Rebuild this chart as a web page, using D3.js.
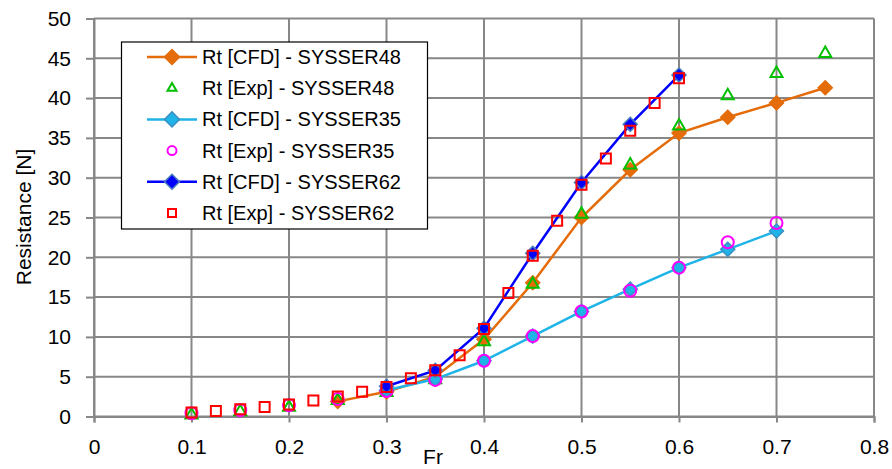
<!DOCTYPE html>
<html><head><meta charset="utf-8">
<script src="https://cdn.jsdelivr.net/npm/d3@7"></script>
<style>body{margin:0;background:#fff}svg{display:block;font-family:"Liberation Sans",Arial,sans-serif}</style>
</head><body><svg id="c" width="892" height="469"></svg>
<script>
const xTicks = [0,0.1,0.2,0.3,0.4,0.5,0.6,0.7,0.8];
const yTicks = [0,5,10,15,20,25,30,35,40,45,50];

const fr48CFD = [0.25,0.3,0.35,0.4,0.45,0.5,0.55,0.6,0.65,0.7,0.75];
const rt48CFD = [1.9,3.1,5.0,9.7,16.8,25.0,31.0,35.6,37.6,39.4,41.3];
const fr48Exp = [0.1,0.15,0.2,0.25,0.3,0.35,0.4,0.45,0.5,0.55,0.6,0.65,0.7,0.75];
const rt48Exp = [0.2,0.6,1.15,2.0,3.0,4.6,9.4,16.6,25.4,31.6,36.5,40.3,43.1,45.6];
const fr35CFD = [0.3,0.35,0.4,0.45,0.5,0.55,0.6,0.65,0.7];
const rt35CFD = [3.3,4.7,7.0,10.1,13.2,16.0,18.7,21.0,23.3];
const fr35Exp = [0.1,0.15,0.2,0.25,0.3,0.35,0.4,0.45,0.5,0.55,0.6,0.65,0.7];
const rt35Exp = [0.4,0.8,1.4,2.2,3.2,4.6,7.0,10.1,13.2,15.8,18.7,21.9,24.3];
const fr62CFD = [0.3,0.35,0.4,0.45,0.5,0.55,0.6];
const rt62CFD = [3.8,5.8,11.1,20.5,29.4,36.7,42.9];
const fr62Exp = [0.1,0.125,0.15,0.175,0.2,0.225,0.25,0.275,0.3,0.325,0.35,0.375,0.4,0.425,0.45,0.475,0.5,0.525,0.55,0.575,0.6];
const rt62Exp = [0.5,0.7,0.9,1.2,1.5,2.0,2.5,3.1,3.7,4.8,5.8,7.7,11.0,15.5,20.2,24.6,29.1,32.4,35.9,39.4,42.5];

const seriesNames = ["Rt [CFD] - SYSSER48","Rt [Exp] - SYSSER48","Rt [CFD] - SYSSER35","Rt [Exp] - SYSSER35","Rt [CFD] - SYSSER62","Rt [Exp] - SYSSER62"];

const series = [
  {name:seriesNames[0], x:fr48CFD, y:rt48CFD, line:"#e46c0a", marker:"diamond", fill:"#e46c0a", stroke:"#e46c0a", size:14},
  {name:seriesNames[1], x:fr48Exp, y:rt48Exp, line:null, marker:"triangle", fill:"none", stroke:"#00c000", size:12},
  {name:seriesNames[2], x:fr35CFD, y:rt35CFD, line:"#1fb4e8", marker:"diamond", fill:"#1fb4e8", stroke:"#3b8fc4", size:14},
  {name:seriesNames[3], x:fr35Exp, y:rt35Exp, line:null, marker:"circle", fill:"none", stroke:"#ff00ff", size:12},
  {name:seriesNames[4], x:fr62CFD, y:rt62CFD, line:"#0000ff", marker:"diamond", fill:"#0000ff", stroke:"#4a7ebb", size:14},
  {name:seriesNames[5], x:fr62Exp, y:rt62Exp, line:null, marker:"square", fill:"none", stroke:"#ff0000", size:10}
];

const svg = d3.select("#c");
const L = 94, R = 874, T = 18.5, B = 416.5;
const x = d3.scaleLinear().domain([0,0.8]).range([L,R]);
const y = d3.scaleLinear().domain([0,50]).range([B,T]);
const grid = "#878787";

svg.append("g").selectAll("line").data(yTicks).join("line")
  .attr("x1",L).attr("x2",R).attr("y1",d=>y(d)).attr("y2",d=>y(d))
  .attr("stroke",grid).attr("stroke-width",2);
svg.append("g").selectAll("line").data(xTicks).join("line")
  .attr("x1",d=>x(d)).attr("x2",d=>x(d)).attr("y1",T).attr("y2",B)
  .attr("stroke",grid).attr("stroke-width",2);

const xAxis = svg.append("g").attr("transform",`translate(0,${B})`)
  .call(d3.axisBottom(x).tickValues(xTicks).tickSize(6).tickPadding(17).tickFormat(d=>d===0?"0":d3.format(".1f")(d)));
const yAxis = svg.append("g").attr("transform",`translate(${L},0)`)
  .call(d3.axisLeft(y).tickValues(yTicks).tickSize(8).tickPadding(15).tickFormat(d3.format("d")));
[xAxis,yAxis].forEach(a=>{
  a.selectAll("path").attr("stroke",grid).attr("stroke-width",2);
  a.selectAll("line").attr("stroke",grid).attr("stroke-width",2);
  a.selectAll("text").attr("fill","#000").style("font-size","21px").style("font-family","'Liberation Sans',Arial,sans-serif");
});

svg.append("text").attr("x",433).attr("y",464).attr("text-anchor","middle")
  .style("font-size","21px").text("Fr");
svg.append("text").attr("transform",`translate(31,217) rotate(-90)`).attr("text-anchor","middle")
  .style("font-size","21px").text("Resistance [N]");

function markerPath(type,size){
  if(type==="diamond") return d3.symbol().type(d3.symbolSquare).size(size*size/2)();
  if(type==="triangle"){const h=size*0.87,w=size/2;return `M0,${-h*2/3}L${w},${h/3}L${-w},${h/3}Z`;}
  if(type==="circle") return d3.symbol().type(d3.symbolCircle).size(Math.PI*(size/2)*(size/2))();
  if(type==="square"){const s=size/2;return `M${-s},${-s}H${s}V${s}H${-s}Z`;}
}
function drawMarker(g,s,px,py){
  const p = g.append("path").attr("d",markerPath(s.marker,s.size))
    .attr("fill",s.fill).attr("stroke",s.stroke).attr("stroke-width",s.marker==="diamond"?1.5:2);
  p.attr("transform",`translate(${px},${py})`+(s.marker==="diamond"?" rotate(45)":""));
}

const plot = svg.append("g");
series.forEach(s=>{
  const pts = s.x.map((v,i)=>[v,s.y[i]]);
  const g = plot.append("g");
  if(s.line){
    g.append("path").datum(pts).attr("fill","none").attr("stroke",s.line).attr("stroke-width",2.5)
      .attr("d",d3.line().x(d=>x(d[0])).y(d=>y(d[1])));
  }
  pts.forEach(d=>drawMarker(g,s,x(d[0]),y(d[1])));
});

const lg = svg.append("g");
lg.append("rect").attr("x",121.5).attr("y",42).attr("width",306).attr("height",187)
  .attr("fill","#fff").attr("stroke","#000").attr("stroke-width",1.2);
const ly0 = 57, ldy = 31.2;
series.forEach((s,i)=>{
  const cy = ly0 + i*ldy;
  if(s.line) lg.append("line").attr("x1",147).attr("x2",197).attr("y1",cy).attr("y2",cy)
    .attr("stroke",s.line).attr("stroke-width",2.5);
  drawMarker(lg,Object.assign({},s,{size:s.marker==="diamond"?15:(s.marker==="square"?8:9)}),172,cy);
  lg.append("text").attr("x",202).attr("y",cy+7).style("font-size","20px").attr("fill","#000").text(s.name);
});
</script></body></html>
